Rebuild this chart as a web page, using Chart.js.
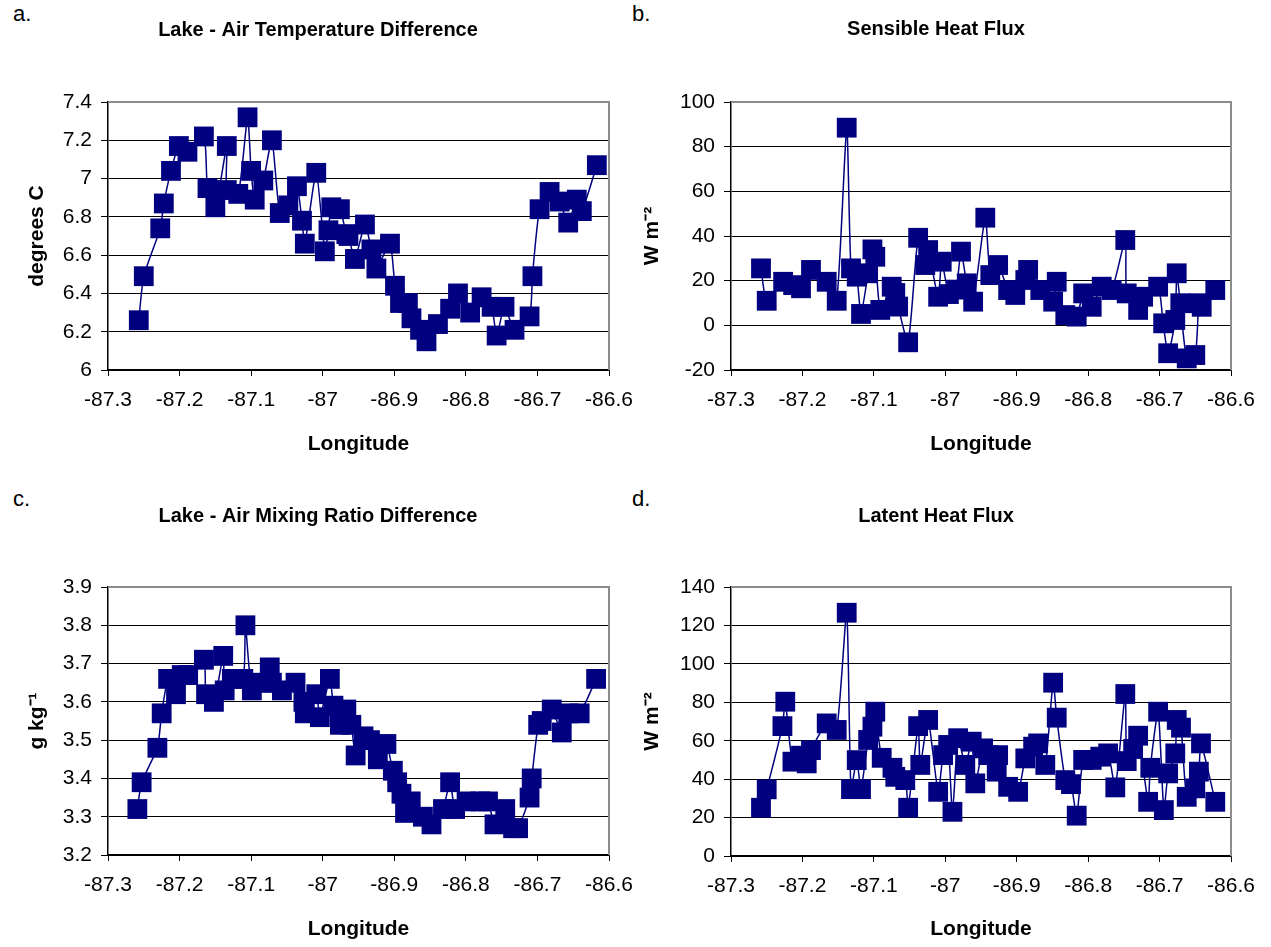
<!DOCTYPE html>
<html>
<head>
<meta charset="utf-8">
<title>Lake - Air differences and heat fluxes</title>
<script src="https://cdn.jsdelivr.net/npm/chart.js@4.4.1/dist/chart.umd.min.js"></script>
<style>
  html, body { margin: 0; padding: 0; background: #fff; overflow: hidden; }
  body { width: 1271px; height: 947px; position: relative; font-family: "Liberation Sans", Arial, sans-serif; }
  canvas { position: absolute; }
  .tag { position: absolute; font-size: 22px; line-height: 22px; color: #000; }
</style>
</head>
<body>
<div class="tag" style="left:13px;top:3px">a.</div>
<div class="tag" style="left:632px;top:3px">b.</div>
<div class="tag" style="left:13px;top:488px">c.</div>
<div class="tag" style="left:632px;top:488px">d.</div>

<canvas id="chartA" width="636" height="470" style="left:0;top:0"></canvas>
<canvas id="chartB" width="648" height="470" style="left:612px;top:0"></canvas>
<canvas id="chartC" width="636" height="462" style="left:0;top:485px"></canvas>
<canvas id="chartD" width="648" height="462" style="left:612px;top:485px"></canvas>

<script>
// longitude axis (shared by all four panels)
const lonMin = -87.3;
const lonMax = -86.6;
const lonStep = 0.1;

// a. lake - air temperature difference (degrees C)
const tempLon = [-87.257, -87.250, -87.227, -87.222, -87.212, -87.201, -87.189, -87.166, -87.161, -87.150,
  -87.134, -87.134, -87.118, -87.105, -87.100, -87.095, -87.083, -87.071, -87.060, -87.048,
  -87.036, -87.029, -87.025, -87.009, -86.997, -86.992, -86.988, -86.976, -86.967, -86.964,
  -86.955, -86.941, -86.932, -86.925, -86.906, -86.899, -86.892, -86.881, -86.876, -86.864,
  -86.855, -86.839, -86.822, -86.811, -86.794, -86.778, -86.764, -86.757, -86.746, -86.732,
  -86.711, -86.707, -86.697, -86.683, -86.669, -86.657, -86.645, -86.638, -86.617];
const tempDiff = [6.26, 6.49, 6.74, 6.87, 7.04, 7.17, 7.14, 7.22, 6.95, 6.85,
  7.17, 6.94, 6.92, 7.32, 7.04, 6.89, 6.99, 7.20, 6.82, 6.86,
  6.96, 6.78, 6.66, 7.03, 6.62, 6.73, 6.85, 6.84, 6.71, 6.70,
  6.58, 6.76, 6.63, 6.53, 6.66, 6.44, 6.35, 6.35, 6.27, 6.21,
  6.15, 6.24, 6.32, 6.40, 6.30, 6.38, 6.33, 6.18, 6.33, 6.21,
  6.28, 6.49, 6.84, 6.93, 6.88, 6.77, 6.89, 6.83, 7.07];

// b. sensible heat flux (W m-2)
const sensLon = [-87.258, -87.250, -87.227, -87.213, -87.202, -87.188, -87.166, -87.152, -87.138, -87.132,
  -87.124, -87.118, -87.108, -87.102, -87.098, -87.091, -87.075, -87.070, -87.066, -87.052,
  -87.038, -87.028, -87.024, -87.010, -87.005, -86.995, -86.985, -86.978, -86.970, -86.961,
  -86.944, -86.937, -86.926, -86.912, -86.902, -86.888, -86.884, -86.867, -86.849, -86.844,
  -86.832, -86.816, -86.807, -86.795, -86.781, -86.767, -86.748, -86.746, -86.730, -86.723,
  -86.702, -86.695, -86.688, -86.678, -86.676, -86.671, -86.662, -86.650, -86.645, -86.641,
  -86.622];
const sensFlux = [25.5, 11.0, 19.5, 18.0, 16.6, 24.8, 19.5, 11.0, 88.5, 25.5,
  21.8, 5.1, 23.3, 34.0, 30.7, 6.9, 17.3, 14.5, 8.4, -7.6,
  39.2, 27.0, 33.7, 12.8, 28.5, 14.0, 16.0, 33.0, 18.8, 10.6,
  48.2, 22.5, 27.0, 15.8, 13.6, 20.3, 24.8, 15.8, 10.6, 19.5,
  4.6, 3.9, 14.3, 8.3, 17.3, 15.8, 38.2, 14.3, 6.9, 12.8,
  17.3, 0.9, -12.5, 2.4, 23.3, 9.9, -14.8, -13.3, 9.9, 8.3,
  15.8];

// c. lake - air mixing ratio difference (g kg-1)
const mixLon = [-87.259, -87.253, -87.231, -87.225, -87.216, -87.205, -87.197, -87.188, -87.166, -87.163,
  -87.152, -87.139, -87.137, -87.127, -87.111, -87.108, -87.099, -87.085, -87.074, -87.071,
  -87.057, -87.038, -87.027, -87.025, -87.009, -87.004, -86.990, -86.985, -86.976, -86.967,
  -86.960, -86.954, -86.943, -86.934, -86.923, -86.911, -86.902, -86.896, -86.890, -86.885,
  -86.877, -86.860, -86.848, -86.832, -86.822, -86.815, -86.799, -86.780, -86.769, -86.760,
  -86.745, -86.734, -86.727, -86.711, -86.708, -86.699, -86.694, -86.680, -86.666, -86.657,
  -86.641, -86.618];
const mixDiff = [3.32, 3.39, 3.48, 3.57, 3.66, 3.62, 3.67, 3.67, 3.71, 3.62,
  3.60, 3.72, 3.63, 3.66, 3.66, 3.80, 3.63, 3.65, 3.69, 3.65,
  3.63, 3.65, 3.60, 3.57, 3.62, 3.56, 3.66, 3.59, 3.54, 3.58,
  3.54, 3.46, 3.51, 3.50, 3.45, 3.49, 3.42, 3.39, 3.36, 3.31,
  3.34, 3.30, 3.28, 3.32, 3.39, 3.32, 3.34, 3.34, 3.34, 3.28,
  3.32, 3.27, 3.27, 3.35, 3.40, 3.54, 3.55, 3.58, 3.52, 3.57,
  3.57, 3.66];

// d. latent heat flux (W m-2)
const latLon = [-87.258, -87.250, -87.228, -87.224, -87.214, -87.202, -87.194, -87.188, -87.166, -87.152,
  -87.138, -87.132, -87.124, -87.118, -87.108, -87.102, -87.098, -87.089, -87.074, -87.070,
  -87.056, -87.052, -87.038, -87.035, -87.024, -87.010, -87.003, -86.996, -86.990, -86.982,
  -86.972, -86.963, -86.958, -86.947, -86.940, -86.928, -86.926, -86.912, -86.898, -86.888,
  -86.877, -86.870, -86.860, -86.849, -86.844, -86.832, -86.824, -86.816, -86.807, -86.795,
  -86.783, -86.772, -86.762, -86.748, -86.746, -86.737, -86.730, -86.716, -86.713, -86.702,
  -86.694, -86.688, -86.678, -86.676, -86.670, -86.662, -86.650, -86.645, -86.642, -86.622];
const latFlux = [25.1, 34.7, 67.6, 80.3, 49.1, 52.2, 48.2, 55.1, 69.0, 65.6,
  126.6, 34.8, 49.9, 34.8, 60.4, 67.3, 75.1, 51.1, 45.9, 41.2,
  39.5, 25.1, 67.6, 47.4, 70.8, 33.4, 52.5, 57.8, 23.0, 61.3,
  47.4, 59.5, 37.8, 56.0, 52.5, 43.9, 52.5, 36.0, 33.4, 50.8,
  56.9, 58.6, 47.4, 90.2, 72.0, 39.5, 37.4, 21.0, 50.0, 50.0,
  51.7, 53.4, 35.7, 84.3, 49.4, 55.7, 62.6, 28.2, 45.9, 75.1,
  23.9, 43.0, 53.4, 70.8, 66.8, 30.8, 35.2, 43.9, 58.6, 28.2];

const FONT = '"Liberation Sans", Arial, sans-serif';
const NAVY = '#000080';

function fmt(digits) {
  return (v) => Number(v.toFixed(digits)).toString();
}

// grey plot-area frame on the top and right edges (Excel style)
const plotFrame = {
  id: 'plotFrame',
  beforeDatasetsDraw(chart) {
    const { ctx, chartArea: a } = chart;
    ctx.save();
    ctx.strokeStyle = '#8c8c8c';
    ctx.lineWidth = 2;
    ctx.beginPath();
    ctx.moveTo(a.left, a.top);
    ctx.lineTo(a.right, a.top);
    ctx.lineTo(a.right, a.bottom);
    ctx.stroke();
    ctx.restore();
  }
};

function makePanel(id, p) {
  const canvas = document.getElementById(id);
  const W = canvas.width, H = canvas.height;
  const points = p.lon.map((x, i) => ({ x: x, y: p.values[i] }));

  return new Chart(canvas, {
    type: 'line',
    data: {
      datasets: [{
        data: points,
        borderColor: NAVY,
        borderWidth: 1.5,
        tension: 0.2,
        pointStyle: 'rect',
        pointRadius: 14,
        pointHoverRadius: 14,
        pointBackgroundColor: NAVY,
        pointBorderWidth: 0,
        clip: false
      }]
    },
    options: {
      responsive: false,
      animation: false,
      events: [],
      layout: { padding: 0 },
      plugins: {
        legend: { display: false },
        tooltip: { enabled: false },
        title: {
          display: true,
          text: p.title,
          color: '#000',
          font: { family: FONT, size: 20, weight: 'bold' },
          padding: { top: p.titleY - 12, bottom: p.plotTop - p.titleY - 12 }
        }
      },
      scales: {
        x: {
          type: 'linear',
          min: lonMin,
          max: lonMax,
          afterFit(s) {
            s.height = H - p.plotBottom;
            s.paddingLeft = 0;
            s.paddingRight = W - p.plotRight;
          },
          ticks: {
            stepSize: lonStep,
            callback: fmt(1),
            color: '#000',
            font: { family: FONT, size: 21 },
            padding: 12,
            maxRotation: 0,
            autoSkip: false
          },
          grid: { drawOnChartArea: false, drawTicks: true, tickLength: 6, color: '#000' },
          border: { color: '#000', width: 1.5 },
          title: {
            display: true,
            text: 'Longitude',
            color: '#000',
            font: { family: FONT, size: 21, weight: 'bold' },
            padding: { top: 0, bottom: H - p.xTitleY - 12.6 }
          }
        },
        y: {
          min: p.yMin,
          max: p.yMax,
          afterFit(s) {
            s.width = p.plotLeft;
            s.paddingTop = 0;
            s.paddingBottom = 0;
          },
          ticks: {
            stepSize: p.yStep,
            callback: fmt(p.yDigits),
            color: '#000',
            font: { family: FONT, size: 21 },
            padding: 9
          },
          grid: { color: '#000', lineWidth: 1, drawTicks: true, tickLength: 7 },
          border: { color: '#000', width: 1.5 },
          title: {
            display: true,
            text: p.yTitle,
            color: '#000',
            font: { family: FONT, size: 21, weight: 'bold' },
            padding: { top: p.yTitleX - 12.6, bottom: 0 }
          }
        }
      }
    },
    plugins: [plotFrame]
  });
}

makePanel('chartA', {
  title: 'Lake - Air Temperature Difference', yTitle: 'degrees C',
  lon: tempLon, values: tempDiff, yMin: 6, yMax: 7.4, yStep: 0.2, yDigits: 1,
  plotLeft: 108, plotRight: 609, plotTop: 102, plotBottom: 370, titleY: 30, yTitleX: 37, xTitleY: 444
});
makePanel('chartB', {
  title: 'Sensible Heat Flux', yTitle: 'W m\u207B\u00B2',
  lon: sensLon, values: sensFlux, yMin: -20, yMax: 100, yStep: 20, yDigits: 0,
  plotLeft: 119, plotRight: 619, plotTop: 102, plotBottom: 370, titleY: 29, yTitleX: 40, xTitleY: 444
});
makePanel('chartC', {
  title: 'Lake - Air Mixing Ratio Difference', yTitle: 'g kg\u207B\u00B9',
  lon: mixLon, values: mixDiff, yMin: 3.2, yMax: 3.9, yStep: 0.1, yDigits: 1,
  plotLeft: 108, plotRight: 609, plotTop: 102, plotBottom: 370, titleY: 31, yTitleX: 37, xTitleY: 444
});
makePanel('chartD', {
  title: 'Latent Heat Flux', yTitle: 'W m\u207B\u00B2',
  lon: latLon, values: latFlux, yMin: 0, yMax: 140, yStep: 20, yDigits: 0,
  plotLeft: 119, plotRight: 619, plotTop: 102, plotBottom: 371, titleY: 31, yTitleX: 40, xTitleY: 444
});
</script>
</body>
</html>
